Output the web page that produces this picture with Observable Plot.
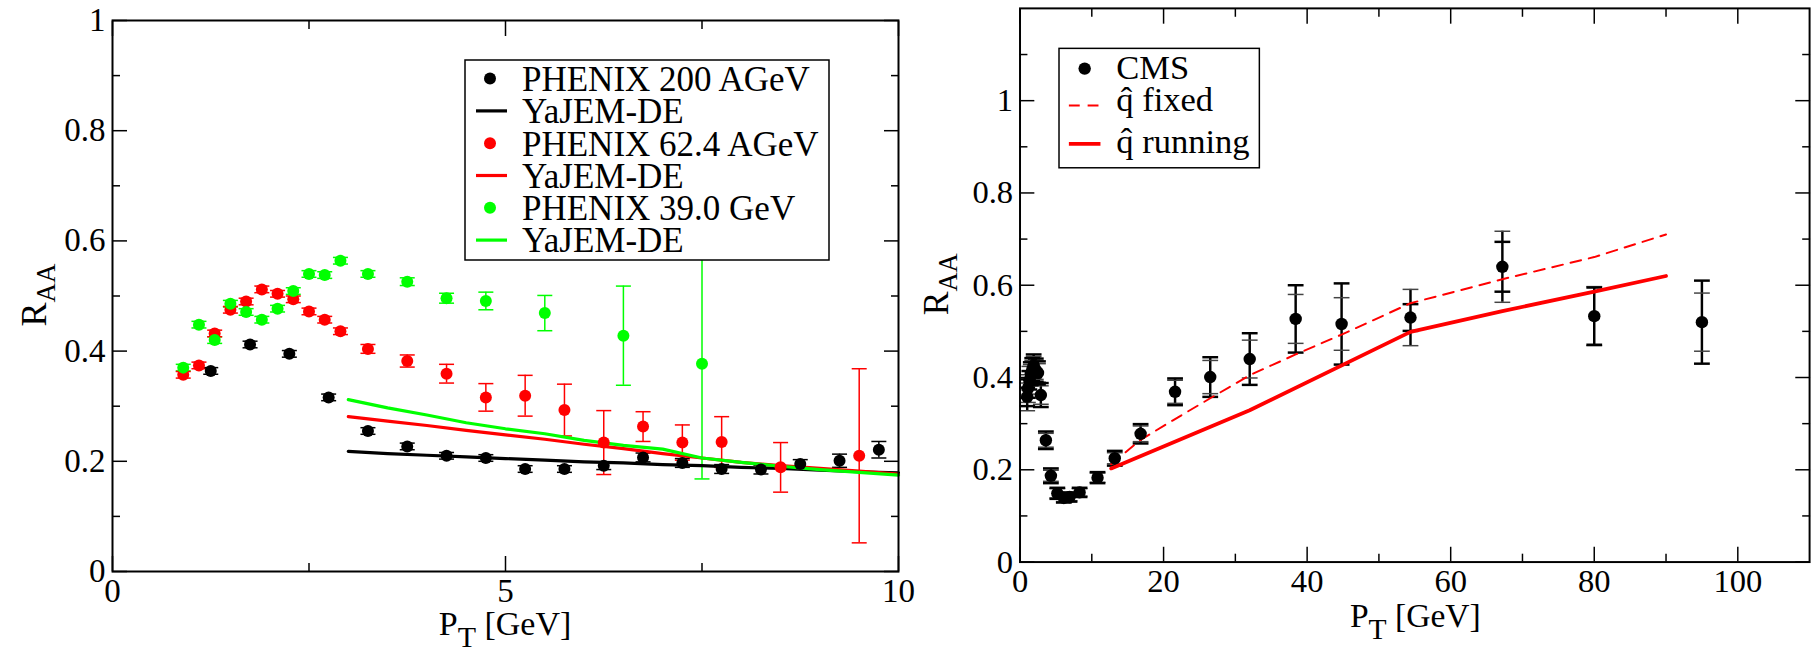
<!DOCTYPE html>
<html><head><meta charset="utf-8">
<script src="https://cdn.jsdelivr.net/npm/d3@7"></script>
<script src="https://cdn.jsdelivr.net/npm/@observablehq/plot@0.6"></script>
<style>
html,body{margin:0;padding:0;background:#fff;overflow:hidden;}
#wrap{position:relative;width:1816px;height:649px;overflow:hidden;background:#fff;}
#left{position:absolute;left:0;top:0;z-index:2;}
#right{position:absolute;left:908px;top:0;z-index:1;}
#wrap svg{overflow:visible;background:none !important;}
#wrap svg text, #wrap svg tspan{font-family:"Liberation Serif","Times New Roman",serif !important;}
</style></head>
<body><div id="wrap"><div id="left"></div><div id="right"></div></div>
<script>
// ---------- Left panel data (RHIC) ----------
const phx200X = [1.25,1.75,2.25,2.75,3.25,3.75,4.25,4.75,5.25,5.75,6.25,6.75,7.25,7.75,8.25,8.75,9.25,9.75];
const phx200Y = [0.364,0.412,0.395,0.316,0.255,0.227,0.210,0.206,0.186,0.186,0.192,0.207,0.197,0.186,0.185,0.195,0.201,0.221];
const phx200E = [0.006,0.006,0.006,0.006,0.006,0.006,0.006,0.006,0.006,0.006,0.007,0.008,0.008,0.008,0.008,0.008,0.012,0.015];

const phx62X = [0.9,1.1,1.3,1.5,1.7,1.9,2.1,2.3,2.5,2.7,2.9,3.25,3.75,4.25,4.75,5.25,5.75,6.25,6.75,7.25,7.75,8.5,9.5];
const phx62Y = [0.357,0.374,0.432,0.475,0.490,0.512,0.504,0.494,0.472,0.457,0.436,0.404,0.382,0.359,0.316,0.319,0.293,0.234,0.263,0.234,0.235,0.189,0.210];
const phx62E = [0.006,0.006,0.006,0.006,0.006,0.006,0.006,0.006,0.006,0.006,0.006,0.008,0.011,0.017,0.025,0.037,0.047,0.058,0.027,0.032,0.046,0.045,0.158];

const phx39X = [0.9,1.1,1.3,1.5,1.7,1.9,2.1,2.3,2.5,2.7,2.9,3.25,3.75,4.25,4.75,5.5,6.5,7.5];
const phx39Y = [0.370,0.448,0.420,0.486,0.471,0.457,0.477,0.509,0.540,0.538,0.564,0.540,0.526,0.496,0.491,0.469,0.428,0.377];
const phx39E = [0.006,0.006,0.006,0.006,0.006,0.006,0.006,0.006,0.006,0.006,0.006,0.006,0.007,0.009,0.016,0.032,0.090,0.209];

const yajemX = [3,3.5,4,4.5,5,5.5,6,6.5,7,7.5,8,8.5,9,9.5,10];
const yajem200 = [0.218,0.214,0.211,0.208,0.205,0.202,0.199,0.197,0.194,0.192,0.189,0.187,0.184,0.181,0.179];
const yajem62 = [0.281,0.273,0.265,0.256,0.248,0.240,0.231,0.223,0.214,0.206,0.198,0.192,0.187,0.182,0.177];
const yajem39 = [0.312,0.297,0.284,0.270,0.259,0.250,0.238,0.229,0.222,0.206,0.198,0.191,0.185,0.180,0.175];

const leftXMajor = [0,5,10], leftXMinor = [2.5,7.5];
const leftYMajor = [0,0.2,0.4,0.6,0.8,1], leftYMinor = [0.1,0.3,0.5,0.7,0.9];
const leftLegend = ["PHENIX 200 AGeV","YaJEM-DE","PHENIX 62.4 AGeV","YaJEM-DE","PHENIX 39.0 GeV","YaJEM-DE"];

// ---------- Right panel data (LHC, CMS) ----------
const cmsX = [1.0,1.1,1.3,1.5,1.7,1.9,2.2,2.5,2.9,3.6,4.3,5.2,6.1,6.9,8.3,10.8,13.2,16.8,21.6,26.5,32.0,38.4,44.8,54.4,67.2,80.0,95.0];
const cmsY = [0.358,0.376,0.394,0.408,0.417,0.425,0.416,0.410,0.362,0.264,0.187,0.149,0.139,0.141,0.151,0.183,0.225,0.278,0.369,0.401,0.440,0.527,0.516,0.530,0.640,0.533,0.520];
const cmsErrA = [0.020,0.020,0.020,0.025,0.025,0.025,0.025,0.025,0.026,0.019,0.016,0.012,0.010,0.010,0.010,0.012,0.016,0.021,0.029,0.043,0.056,0.073,0.088,0.029,0.054,0.062,0.090];
const cmsErrB = [0.030,0.030,0.030,0.020,0.020,0.020,0.020,0.020,0.020,0.015,0.012,0.010,0.008,0.008,0.008,0.010,0.012,0.017,0.025,0.036,0.041,0.053,0.057,0.061,0.077,0.064,0.063];

const qFixedX = [12.7,16.8,21.6,26.5,32.0,38.4,44.8,54.4,67.2,80.0,90.0];
const qFixedY = [0.212,0.265,0.310,0.355,0.405,0.450,0.493,0.561,0.613,0.661,0.710];
const qRunX = [12.7,32.0,54.4,67.2,80.0,90.0];
const qRunY = [0.203,0.329,0.499,0.544,0.586,0.620];

const rightXMajor = [0,20,40,60,80,100], rightXMinor = [10,30,50,70,90];
const rightYMajor = [0,0.2,0.4,0.6,0.8,1], rightYMinor = [0.1,0.3,0.5,0.7,0.9,1.1];
const rightLegend = ["CMS","q\u0302 fixed","q\u0302 running"];

// ---------- helpers ----------
const FONT = "Liberation Serif, Times New Roman, serif";
const RED = "#ff0000", GREEN = "#00ff00", BLACK = "#000000";
const capSymbol = {draw(ctx, size){ const r = Math.sqrt(size/Math.PI); ctx.moveTo(-r,0); ctx.lineTo(r,0); }};
const rows = (X,Y,E) => X.map((x,i)=>({x, y:Y[i], e:E ? E[i] : 0}));
const fmt = d => String(d);

function errMarks(data, color, capR, sw) {
  return [
    Plot.ruleX(data, {x:"x", y1:d=>d.y-d.e, y2:d=>d.y+d.e, stroke:color, strokeWidth:sw}),
    Plot.dot(data, {x:"x", y:d=>d.y+d.e, symbol:capSymbol, r:capR, stroke:color, strokeWidth:sw, fill:"none"}),
    Plot.dot(data, {x:"x", y:d=>d.y-d.e, symbol:capSymbol, r:capR, stroke:color, strokeWidth:sw, fill:"none"})
  ];
}
function axisMarks(xMaj, xMin, yMaj, yMin) {
  const t = {stroke:BLACK, strokeWidth:1.5, tickFormat:()=>"", label:null};
  const lab = {tickSize:0, tickPadding:7, fontSize:33, fontFamily:FONT, fill:BLACK, label:null, tickFormat:fmt};
  return [
    Plot.axisX(xMaj, {anchor:"bottom", tickSize:-15, ...t}),
    Plot.axisX(xMaj, {anchor:"top", tickSize:-15, ...t}),
    Plot.axisX(xMin, {anchor:"bottom", tickSize:-8, ...t}),
    Plot.axisX(xMin, {anchor:"top", tickSize:-8, ...t}),
    Plot.axisY(yMaj, {anchor:"left", tickSize:-15, ...t}),
    Plot.axisY(yMaj, {anchor:"right", tickSize:-15, ...t}),
    Plot.axisY(yMin, {anchor:"left", tickSize:-8, ...t}),
    Plot.axisY(yMin, {anchor:"right", tickSize:-8, ...t}),
    Plot.axisX(xMaj, {anchor:"bottom", ...lab}),
    Plot.axisY(yMaj, {anchor:"left", ...lab})
  ];
}
function xTitle(svg, cx) {
  const t = svg.append("text").attr("x", cx).attr("y", 635).attr("text-anchor","middle")
    .attr("font-family", FONT).attr("font-size", 34).attr("fill", BLACK);
  t.append("tspan").text("P");
  t.append("tspan").attr("font-size", 30).attr("dy", 12).text("T");
  t.append("tspan").attr("dy", -12).text(" [GeV]");
}
function yTitle(svg, bx, cy) {
  const t = svg.append("text").attr("transform", `translate(${bx},${cy}) rotate(-90)`).attr("text-anchor","middle")
    .attr("font-family", FONT).attr("font-size", 36).attr("fill", BLACK);
  t.append("tspan").text("R");
  t.append("tspan").attr("font-size", 27).attr("dy", 9).text("AA");
}

// ---------- Left plot ----------
const d200 = rows(phx200X, phx200Y, phx200E);
const d62 = rows(phx62X, phx62Y, phx62E);
const d39 = rows(phx39X, phx39Y, phx39E);
const l200 = rows(yajemX, yajem200), l62 = rows(yajemX, yajem62), l39 = rows(yajemX, yajem39);

const leftPlot = Plot.plot({
  width: 908, height: 649,
  marginLeft: 112, marginRight: 10, marginTop: 20, marginBottom: 78,
  x: {domain:[0,10], label:null},
  y: {domain:[0,1], label:null},
  style: {fontFamily: FONT, background: "none", overflow: "visible"},
  marks: [
    ...errMarks(d39, GREEN, 7.5, 1.5),
    ...errMarks(d62, RED, 7.5, 1.5),
    ...errMarks(d200, BLACK, 7.5, 1.5),
    Plot.line(l200, {x:"x", y:"y", stroke:BLACK, strokeWidth:3.2}),
    Plot.line(l62, {x:"x", y:"y", stroke:RED, strokeWidth:3.2}),
    Plot.line(l39, {x:"x", y:"y", stroke:GREEN, strokeWidth:3.2}),
    Plot.dot(d62, {x:"x", y:"y", r:6, fill:RED}),
    Plot.dot(d39, {x:"x", y:"y", r:6, fill:GREEN}),
    Plot.dot(d200, {x:"x", y:"y", r:6, fill:BLACK}),
    Plot.frame({stroke:BLACK, strokeWidth:2}),
    ...axisMarks(leftXMajor, leftXMinor, leftYMajor, leftYMinor)
  ]
});
document.getElementById("left").appendChild(leftPlot);
{
  const svg = d3.select(leftPlot);
  xTitle(svg, 505);
  yTitle(svg, 46, 295);
  const g = svg.append("g");
  g.append("rect").attr("x",465).attr("y",60).attr("width",364).attr("height",200)
    .attr("fill","white").attr("stroke",BLACK).attr("stroke-width",1.5);
  const colors = [BLACK,BLACK,RED,RED,GREEN,GREEN];
  leftLegend.forEach((lab,i)=>{
    const cy = 78.6 + i*32.3;
    if (i % 2 === 0) g.append("circle").attr("cx",490).attr("cy",cy).attr("r",6).attr("fill",colors[i]);
    else g.append("line").attr("x1",476).attr("x2",507).attr("y1",cy).attr("y2",cy).attr("stroke",colors[i]).attr("stroke-width",3.2);
    g.append("text").attr("x",522).attr("y",cy+12.3).attr("text-anchor","start").attr("font-family",FONT).attr("font-size",35).attr("fill",BLACK).text(lab);
  });
}

// ---------- Right plot ----------
const dcms = cmsX.map((x,i)=>({x, y:cmsY[i], a:cmsErrA[i], b:cmsErrB[i], m:Math.max(cmsErrA[i],cmsErrB[i])}));
const lFix = rows(qFixedX, qFixedY), lRun = rows(qRunX, qRunY);

const rightPlot = Plot.plot({
  width: 920, height: 649,
  marginLeft: 113, marginRight: 7, marginTop: 8, marginBottom: 80,
  x: {domain:[0,110], label:null},
  y: {domain:[0,1.2], label:null},
  style: {fontFamily: FONT, background: "none", overflow: "visible"},
  marks: [
    Plot.ruleX(dcms, {x:"x", y1:d=>d.y-d.m, y2:d=>d.y+d.m, stroke:BLACK, strokeWidth:2.5}),
    Plot.dot(dcms, {x:"x", y:d=>d.y+d.b, symbol:capSymbol, r:8, stroke:"#444", strokeWidth:1.5, fill:"none"}),
    Plot.dot(dcms, {x:"x", y:d=>d.y-d.b, symbol:capSymbol, r:8, stroke:"#444", strokeWidth:1.5, fill:"none"}),
    Plot.dot(dcms, {x:"x", y:d=>d.y+d.a, symbol:capSymbol, r:8, stroke:BLACK, strokeWidth:2.5, fill:"none"}),
    Plot.dot(dcms, {x:"x", y:d=>d.y-d.a, symbol:capSymbol, r:8, stroke:BLACK, strokeWidth:2.5, fill:"none"}),
    Plot.line(lFix, {x:"x", y:"y", stroke:RED, strokeWidth:2, strokeDasharray:"11,8"}),
    Plot.line(lRun, {x:"x", y:"y", stroke:RED, strokeWidth:3.8}),
    Plot.dot(dcms, {x:"x", y:"y", r:6.3, fill:BLACK}),
    Plot.frame({stroke:BLACK, strokeWidth:2}),
    ...axisMarks(rightXMajor, rightXMinor, rightYMajor, rightYMinor)
  ]
});
document.getElementById("right").appendChild(rightPlot);
{
  const svg = d3.select(rightPlot);
  xTitle(svg, 514);
  yTitle(svg, 41, 288);
  const g = svg.append("g");
  g.append("rect").attr("x",153).attr("y",49).attr("width",203).attr("height",121)
    .attr("fill","white").attr("stroke",BLACK).attr("stroke-width",1.5);
  const baselines = [80, 112.6, 155];
  g.append("circle").attr("cx",179).attr("cy",69.5).attr("r",6.3).attr("fill",BLACK);
  g.append("line").attr("x1",163).attr("x2",195).attr("y1",106.8).attr("y2",106.8).attr("stroke",RED).attr("stroke-width",2).attr("stroke-dasharray","11,8");
  g.append("line").attr("x1",163).attr("x2",195).attr("y1",145.7).attr("y2",145.7).attr("stroke",RED).attr("stroke-width",3.8);
  rightLegend.forEach((lab,i)=>{
    g.append("text").attr("x",211).attr("y",baselines[i]).attr("text-anchor","start").attr("font-family",FONT).attr("font-size",35).attr("fill",BLACK).text(lab);
  });
}
</script>
</body></html>
